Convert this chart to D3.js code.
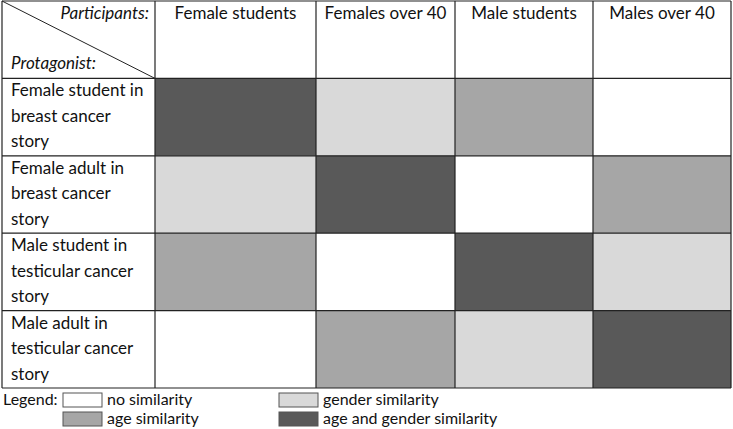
<!DOCTYPE html>
<html lang="en">
<head>
<meta charset="UTF-8">
<script src="https://d3js.org/d3.v7.min.js"></script>
<title>Similarity matrix</title>
<style>
  body { margin: 0; background: #fff; }
  text { font-family: Lato, "Open Sans", sans-serif; fill: #111; }
</style>
</head>
<body>
<script>
// participants (columns) and protagonists (rows)
const participants = ["Female students", "Females over 40", "Male students", "Males over 40"];
const protagonists = [
    ["Female student in", "breast cancer", "story"],
    ["Female adult in", "breast cancer", "story"],
    ["Male student in", "testicular cancer", "story"],
    ["Male adult in", "testicular cancer", "story"]
];
// similarity level per row: 0 none, 1 gender, 2 age, 3 age and gender
const similarity = [
    [3, 1, 2, 0],
    [1, 3, 0, 2],
    [2, 0, 3, 1],
    [0, 2, 1, 3]
];
const levels = ["no similarity", "gender similarity", "age similarity", "age and gender similarity"];

// layout
const W = 733, H = 429;
const padL = 2, padT = 1, padR = 731;
const firstCol = 153;
const colWidths = [161, 139, 138, 138];
const rowH = 77.4;

const svg = d3.select("body").append("svg")
    .attr("width", W).attr("height", H);

const color = d3.scaleOrdinal()
    .domain([0, 1, 2, 3])
    .range(["#ffffff", "#d9d9d9", "#a6a6a6", "#595959"]);

// column left edges
const edges = [];
let acc = padL + firstCol;
colWidths.forEach(w => { edges.push(acc); acc += w; });
const x = d3.scaleOrdinal().domain(participants).range(edges);
const cw = d3.scaleOrdinal().domain(participants).range(colWidths);

const y = d3.scaleBand()
    .domain(d3.range(protagonists.length + 1))
    .range([padT, padT + rowH * (protagonists.length + 1)]);

const cells = [];
similarity.forEach((row, i) => row.forEach((v, j) => cells.push({ r: i + 1, c: participants[j], v })));

svg.append("g").selectAll("rect")
    .data(cells)
    .join("rect")
    .attr("x", d => x(d.c))
    .attr("y", d => y(d.r))
    .attr("width", d => cw(d.c))
    .attr("height", y.bandwidth())
    .attr("fill", d => color(d.v));

// grid lines
const grid = svg.append("g").attr("stroke", "#222").attr("stroke-width", 1.2);
const bottom = y(protagonists.length) + y.bandwidth();
[padL, ...edges, padR].forEach(xx => {
    grid.append("line").attr("x1", xx).attr("x2", xx).attr("y1", padT).attr("y2", bottom);
});
d3.range(protagonists.length + 1).forEach(r => {
    grid.append("line").attr("x1", padL).attr("x2", padR).attr("y1", y(r)).attr("y2", y(r));
});
grid.append("line").attr("x1", padL).attr("x2", padR).attr("y1", bottom).attr("y2", bottom);
// diagonal in corner
grid.append("line").attr("x1", padL).attr("y1", padT)
    .attr("x2", padL + firstCol).attr("y2", y(1)).attr("stroke-width", 1);

// header labels
svg.append("g").selectAll("text")
    .data(participants)
    .join("text")
    .attr("x", d => x(d) + cw(d) / 2)
    .attr("y", padT + 18)
    .attr("text-anchor", "middle")
    .attr("font-size", 17)
    .text(d => d);

svg.append("text")
    .attr("x", padL + firstCol - 6).attr("y", padT + 18)
    .attr("text-anchor", "end")
    .attr("font-size", 17).attr("font-style", "italic")
    .text("Participants:");
svg.append("text")
    .attr("x", padL + 9).attr("y", padT + 68)
    .attr("font-size", 17).attr("font-style", "italic")
    .text("Protagonist:");

// row labels
protagonists.forEach((lines, i) => {
    svg.append("text")
        .attr("x", padL + 9)
        .attr("y", y(i + 1) + 18)
        .attr("font-size", 17)
        .selectAll("tspan")
        .data(lines)
        .join("tspan")
        .attr("x", padL + 9)
        .attr("dy", (d, k) => k === 0 ? 0 : 25.5)
        .text(d => d);
});

// legend
const lg = svg.append("g");
lg.append("text").attr("x", 3).attr("y", 405).attr("font-size", 16).text("Legend:");
const legendPos = [[63, 393], [279, 393], [63, 412], [279, 412]];
const legendOrder = [0, 1, 2, 3];
lg.selectAll("rect")
    .data(legendOrder)
    .join("rect")
    .attr("x", (d, i) => legendPos[i][0])
    .attr("y", (d, i) => legendPos[i][1])
    .attr("width", 39).attr("height", 14)
    .attr("fill", d => color(d))
    .attr("stroke", "#555").attr("stroke-width", 1);
lg.selectAll("text.item")
    .data(legendOrder)
    .join("text")
    .attr("class", "item")
    .attr("x", (d, i) => legendPos[i][0] + 44)
    .attr("y", (d, i) => legendPos[i][1] + 12)
    .attr("font-size", 16)
    .text(d => levels[d]);
</script>
</body>
</html>
